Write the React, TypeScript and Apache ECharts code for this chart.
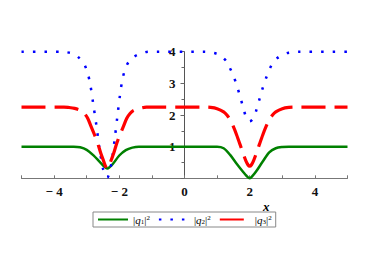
import React, { useEffect, useRef } from "react";
import * as echarts from "echarts";

// |q1|^2: [x, y]
const q1Data: [number, number][] = [
  [-5, 1], [-3.6, 1], [-3.4, 1.0], [-3.2, 0.98], [-3.0, 0.9], [-2.8, 0.73], [-2.6, 0.52],
  [-2.45, 0.36], [-2.37, 0.31], [-2.3, 0.35], [-2.2, 0.45], [-2.0, 0.72], [-1.8, 0.89],
  [-1.6, 0.97], [-1.4, 1.0], [-1.2, 1], [0.8, 1], [1.0, 1.0], [1.2, 0.95], [1.4, 0.74],
  [1.6, 0.46], [1.8, 0.2], [1.9, 0.08], [2.0, 0.0], [2.1, 0.09], [2.2, 0.22], [2.4, 0.53],
  [2.6, 0.82], [2.8, 0.95], [3.0, 0.99], [3.2, 1], [5, 1],
];

// |q2|^2
const q2Data: [number, number][] = [
  [-5, 4], [-3.8, 4], [-3.6, 3.98], [-3.4, 3.93], [-3.25, 3.82], [-3.1, 3.65], [-3.0, 3.42],
  [-2.9, 3.02], [-2.8, 2.35], [-2.7, 1.65], [-2.6, 0.88], [-2.5, 0.3], [-2.43, 0.08],
  [-2.37, 0.02], [-2.3, 0.18], [-2.22, 0.62], [-2.14, 1.25], [-2.06, 1.95], [-1.98, 2.62],
  [-1.9, 3.15], [-1.8, 3.5], [-1.7, 3.7], [-1.55, 3.84], [-1.35, 3.94], [-1.1, 4.0],
  [-0.8, 4], [0.6, 4.0], [0.9, 3.96], [1.1, 3.88], [1.3, 3.68], [1.4, 3.47], [1.5, 3.24],
  [1.6, 2.95], [1.7, 2.6], [1.8, 2.24], [1.9, 1.9], [2.0, 1.8], [2.1, 1.88], [2.2, 2.14],
  [2.3, 2.5], [2.4, 2.86], [2.5, 3.16], [2.6, 3.42], [2.7, 3.63], [2.85, 3.8], [3.0, 3.9],
  [3.2, 3.97], [3.5, 4.0], [5, 4],
];

// |q3|^2
const q3Data: [number, number][] = [
  [-5, 2.25], [-3.7, 2.25], [-3.57, 2.24], [-3.37, 2.21], [-3.17, 2.14], [-3.07, 2.05],
  [-2.97, 1.9], [-2.87, 1.65], [-2.77, 1.4], [-2.67, 1.13], [-2.57, 0.8], [-2.5, 0.6],
  [-2.43, 0.4], [-2.37, 0.31], [-2.31, 0.4], [-2.24, 0.6], [-2.17, 0.8], [-2.07, 1.13],
  [-1.97, 1.4], [-1.87, 1.65], [-1.77, 1.9], [-1.67, 2.05], [-1.57, 2.14], [-1.37, 2.21],
  [-1.17, 2.25], [0.6, 2.25], [0.8, 2.24], [1.0, 2.2], [1.2, 2.1], [1.3, 2.0], [1.4, 1.85],
  [1.5, 1.63], [1.6, 1.37], [1.7, 1.08], [1.8, 0.78], [1.88, 0.56], [1.95, 0.42],
  [2.0, 0.38], [2.05, 0.42], [2.12, 0.56], [2.2, 0.78], [2.3, 1.08], [2.4, 1.37],
  [2.5, 1.63], [2.6, 1.85], [2.7, 2.0], [2.8, 2.1], [3.0, 2.2], [3.2, 2.24], [3.4, 2.25],
  [5, 2.25],
];

const seriesNames = ["q1", "q2", "q3"];
const seriesIndexLabels = ["1", "2", "3"];
const xTickLabels = [-4, -2, 0, 2, 4];
const yTickLabels = [1, 2, 3, 4];

const GRID_LEFT = 21.5;
const GRID_RIGHT = 34.5;
const WIDTH = 382;

export default function App() {
  const ref = useRef<HTMLDivElement>(null);
  useEffect(() => {
    if (!ref.current) return;
    const chart = echarts.init(ref.current, undefined, { renderer: "svg" });
    const serif = "Liberation Serif";
    const richBase = { fontFamily: serif, fontSize: 11, lineHeight: 11, color: "#000" };
    // place the y axis where x = 0 (middle of the x range)
    const plotW = WIDTH - GRID_LEFT - GRID_RIGHT;
    const zeroOffset = -plotW * (0 - -5) / 10;
    chart.setOption({
      animation: false,
      backgroundColor: "#fff",
      grid: { left: GRID_LEFT, right: GRID_RIGHT, top: 51.7, bottom: 94.7 },
      xAxis: {
        type: "value",
        min: -5,
        max: 5,
        interval: 1,
        axisLine: { onZero: false, lineStyle: { color: "#777", width: 1 } },
        axisTick: { show: true, inside: true, length: 3, lineStyle: { color: "#777" } },
        splitLine: { show: false },
        axisLabel: {
          margin: 7,
          fontFamily: serif,
          fontWeight: "bold",
          fontSize: 13,
          color: "#111",
          formatter: (v: number) =>
            xTickLabels.includes(v) ? (v < 0 ? "\u2212 " + Math.abs(v) : String(v)) : "",
        },
      },
      yAxis: {
        type: "value",
        min: 0,
        max: 4,
        interval: 1,
        position: "left",
        offset: zeroOffset,
        axisLine: { show: true, onZero: false, lineStyle: { color: "#555", width: 1 } },
        axisTick: { show: true, length: 4, lineStyle: { color: "#666" } },
        minorTick: { show: true, splitNumber: 2, length: 3, lineStyle: { color: "#666" } },
        splitLine: { show: false },
        axisLabel: {
          margin: 9,
          fontFamily: serif,
          fontWeight: "bold",
          fontSize: 13,
          color: "#111",
          formatter: (v: number) => (yTickLabels.includes(v) ? String(v) : ""),
        },
      },
      legend: {
        left: 93,
        top: 212,
        orient: "horizontal",
        padding: [2, 4, 2, 4],
        itemGap: 8,
        itemWidth: 30,
        itemHeight: 11,
        itemTextGap: 5,
        borderColor: "#888",
        borderWidth: 1,
        borderRadius: 0,
        itemStyle: { color: "rgba(0,0,0,0)", opacity: 0, borderWidth: 0 },
        data: seriesNames,
        formatter: (name: string) => {
          const i = seriesIndexLabels[seriesNames.indexOf(name)];
          return `{n||}{q|q}{s|${i}}{n||}{p|2}`;
        },
        textStyle: {
          fontFamily: serif,
          fontSize: 11,
          rich: {
            n: richBase,
            q: { ...richBase, fontStyle: "italic" },
            s: { fontFamily: serif, fontSize: 7, lineHeight: 7, verticalAlign: "bottom", color: "#000" },
            p: { fontFamily: serif, fontSize: 7, lineHeight: 7, verticalAlign: "top", color: "#000" },
          },
        },
      },
      graphic: [
        {
          type: "text",
          left: 263,
          top: 200,
          style: {
            text: "x",
            font: `italic bold 13px ${serif}`,
            fill: "#000",
          },
        },
      ],
      series: [
        {
          name: "q1",
          type: "line",
          data: q1Data,
          symbol: "none",
          smooth: 0.3,
          clip: false,
          lineStyle: { color: "#008000", width: 2.5, type: "solid" },
          itemStyle: { color: "#008000" },
          z: 3,
        },
        {
          name: "q2",
          type: "line",
          data: q2Data,
          symbol: "none",
          smooth: 0.3,
          clip: false,
          lineStyle: { color: "#0000ff", width: 2.5, type: [2.5, 9], cap: "butt" },
          itemStyle: { color: "#0000ff" },
          z: 4,
        },
        {
          name: "q3",
          type: "line",
          data: q3Data,
          symbol: "none",
          smooth: 0.3,
          clip: false,
          lineStyle: { color: "#ff0000", width: 3.2, type: [24, 9] },
          itemStyle: { color: "#ff0000" },
          z: 5,
        },
      ],
    });
    return () => chart.dispose();
  }, []);
  return (
    <div
      ref={ref}
      style={{ position: "absolute", left: 0, top: 0, width: WIDTH, height: 273, background: "#fff" }}
    />
  );
}
